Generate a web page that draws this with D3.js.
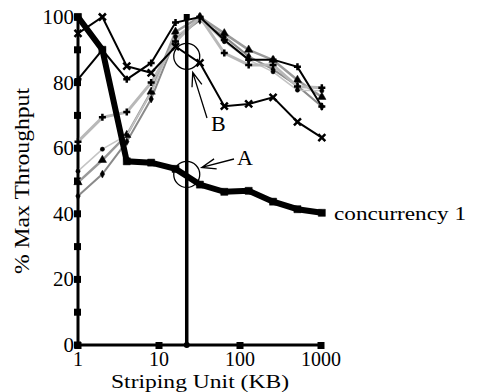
<!DOCTYPE html>
<html>
<head>
<meta charset="utf-8">
<script src="https://cdn.jsdelivr.net/npm/d3@7"></script>
<style>
body { margin: 0; background: #fff; }
text { font-family: "Times New Roman", Times, "Liberation Serif", serif; fill: #000; }
</style>
</head>
<body>
<div id="chart"></div>
<script>
// striping unit sizes (KB)
var units = [1, 2, 4, 8, 16, 32, 64, 128, 256, 512, 1024];

// % of max throughput for each concurrency curve
var conc1 = [100, 90, 56, 55.6, 53.7, 48.9, 46.7, 47, 43.7, 41.4, 40.3];
var concX = [95, 100, 85, 83, 91, 86, 72.8, 73.5, 75.5, 68, 63.2];
var concP = [81, 90, 81, 86, 98.3, 100, 93, 87, 87, 84.8, 72.7];
var concLight = [62, 69.4, 71, 80, 92.5, 100, 89, 85.4, 85.4, 78.8, 78.4];
var concCirc = [53, 59.7, 64, 77, 94, 99.5, 92.5, 86.9, 83.3, 77.7, 77.5];
var concTri = [49.6, 56.4, 64, 77.2, 95.5, 100, 95, 90, 86.9, 80.8, 75.6];
var concDia = [45.4, 52.1, 62, 75, 93.5, 99, 94, 88, 84, 79, 72.7];

var yTicks = [0, 20, 40, 60, 80, 100];
var yMarks = [0, 10, 20, 30, 40, 50, 60, 70, 80, 90, 100];
var xTicks = [1, 10, 100, 1000];
var cutUnit = 22;   // vertical marker line
var pointA = 52, pointB = 88;

var svgWidth = 477, svgHeight = 392;
var svg = d3.select("#chart").append("svg")
    .attr("width", svgWidth).attr("height", svgHeight);

var x = d3.scaleLog().domain([1, 1000]).range([78, 321]);
var y = d3.scaleLinear().domain([0, 100]).range([345, 17]);

var line = d3.line().x(function(d) { return x(d[0]); }).y(function(d) { return y(d[1]); });

function pts(vals) { return units.map(function(u, i) { return [u, vals[i]]; }); }

// axes: plain thick lines with square tick marks
var axisG = svg.append("g");
axisG.append("line").attr("x1", x(1)).attr("x2", x(1)).attr("y1", y(0)).attr("y2", y(100))
    .attr("stroke", "#000").attr("stroke-width", 3);
axisG.append("line").attr("x1", x(1)).attr("x2", x(1000)).attr("y1", y(0)).attr("y2", y(0))
    .attr("stroke", "#000").attr("stroke-width", 3);
axisG.selectAll(".ym").data(yMarks).enter().append("rect")
    .attr("x", x(1) - 4).attr("y", function(d) { return y(d) - 3.5; })
    .attr("width", 7).attr("height", 7).attr("fill", "#000");
axisG.selectAll(".xm").data(xTicks).enter().append("rect")
    .attr("x", function(d) { return x(d) - 3.5; }).attr("y", y(0) - 3)
    .attr("width", 7).attr("height", 7).attr("fill", "#000");
axisG.selectAll(".yl").data(yTicks).enter().append("text")
    .attr("x", x(1) - 4).attr("y", function(d) { return y(d) + 7; })
    .attr("text-anchor", "end").attr("font-size", 21).text(function(d) { return d; });
axisG.selectAll(".xl").data(xTicks).enter().append("text")
    .attr("x", function(d) { return x(d); }).attr("y", 366)
    .attr("text-anchor", "middle").attr("font-size", 20).text(function(d) { return d; });

svg.append("text").attr("x", 200).attr("y", 388).attr("text-anchor", "middle")
    .attr("font-size", 19).attr("textLength", 178).attr("lengthAdjust", "spacingAndGlyphs")
    .text("Striping Unit (KB)");
svg.append("text").attr("transform", "translate(29," + 181 + ") rotate(-90)")
    .attr("text-anchor", "middle").attr("font-size", 20).attr("textLength", 186)
    .attr("lengthAdjust", "spacingAndGlyphs").text("% Max Throughput");

// series
var series = [
    { v: concDia, color: "#8a8a8a", w: 2, sym: "dia" },
    { v: concTri, color: "#9a9a9a", w: 2.5, sym: "tri" },
    { v: concCirc, color: "#c4c4c4", w: 1.5, sym: "circ" },
    { v: concLight, color: "#b8b8b8", w: 3, sym: "plus" },
    { v: concP, color: "#000", w: 2, sym: "plus" },
    { v: concX, color: "#000", w: 2, sym: "times" },
    { v: conc1, color: "#000", w: 6, sym: "square" }
];

var symPath = {
    dia: d3.symbol().type(d3.symbolDiamond).size(18)(),
    tri: d3.symbol().type(d3.symbolTriangle).size(30)(),
    circ: d3.symbol().type(d3.symbolCircle).size(14)(),
    plus: "M-3.5,0H3.5M0,-3.5V3.5",
    times: "M-3.5,-3.5L3.5,3.5M-3.5,3.5L3.5,-3.5",
    square: d3.symbol().type(d3.symbolSquare).size(50)()
};

series.forEach(function(s) {
    svg.append("path").datum(pts(s.v)).attr("d", line)
        .attr("fill", "none").attr("stroke", s.color).attr("stroke-width", s.w)
        .attr("stroke-linejoin", "miter");
    svg.selectAll(null).data(pts(s.v)).enter().append("path")
        .attr("transform", function(d) { return "translate(" + x(d[0]) + "," + y(d[1]) + ")"; })
        .attr("d", symPath[s.sym])
        .attr("fill", "#000").attr("stroke", "#000")
        .attr("stroke-width", (s.sym == "plus" || s.sym == "times") ? 2.5 : 0.5);
});

// vertical marker line at the chosen striping unit
svg.append("line").attr("x1", x(cutUnit)).attr("x2", x(cutUnit)).attr("y1", y(0)).attr("y2", y(100))
    .attr("stroke", "#000").attr("stroke-width", 3.5);
svg.append("circle").attr("cx", x(cutUnit)).attr("cy", y(0)).attr("r", 3).attr("fill", "#000");
svg.append("rect").attr("x", x(cutUnit) - 3).attr("y", y(100) - 3).attr("width", 6).attr("height", 6).attr("fill", "#000");

// annotations A and B
[pointA, pointB].forEach(function(v) {
    svg.append("circle").attr("cx", x(cutUnit)).attr("cy", y(v)).attr("r", 13)
        .attr("fill", "none").attr("stroke", "#000").attr("stroke-width", 1.3);
});

function arrow(x1, y1, x2, y2) {
    var a = Math.atan2(y1 - y2, x1 - x2), L = 15, s = 0.35;
    var p = "M" + x1 + "," + y1 + "L" + x2 + "," + y2 +
        "M" + (x2 + L * Math.cos(a + s)) + "," + (y2 + L * Math.sin(a + s)) + "L" + x2 + "," + y2 +
        "L" + (x2 + L * Math.cos(a - s)) + "," + (y2 + L * Math.sin(a - s));
    svg.append("path").attr("d", p).attr("fill", "none").attr("stroke", "#000").attr("stroke-width", 1.3);
}
arrow(234, 159, x(cutUnit) + 15, y(pointA) - 7);
arrow(207, 118, x(cutUnit) + 6, y(pointB) + 16);

svg.append("text").attr("x", 237).attr("y", 165).attr("font-size", 22).text("A");
svg.append("text").attr("x", 211).attr("y", 131).attr("font-size", 22).text("B");

svg.append("text").attr("x", 334).attr("y", 220).attr("font-size", 19).attr("textLength", 132)
    .attr("lengthAdjust", "spacingAndGlyphs").text("concurrency 1");
</script>
</body>
</html>
